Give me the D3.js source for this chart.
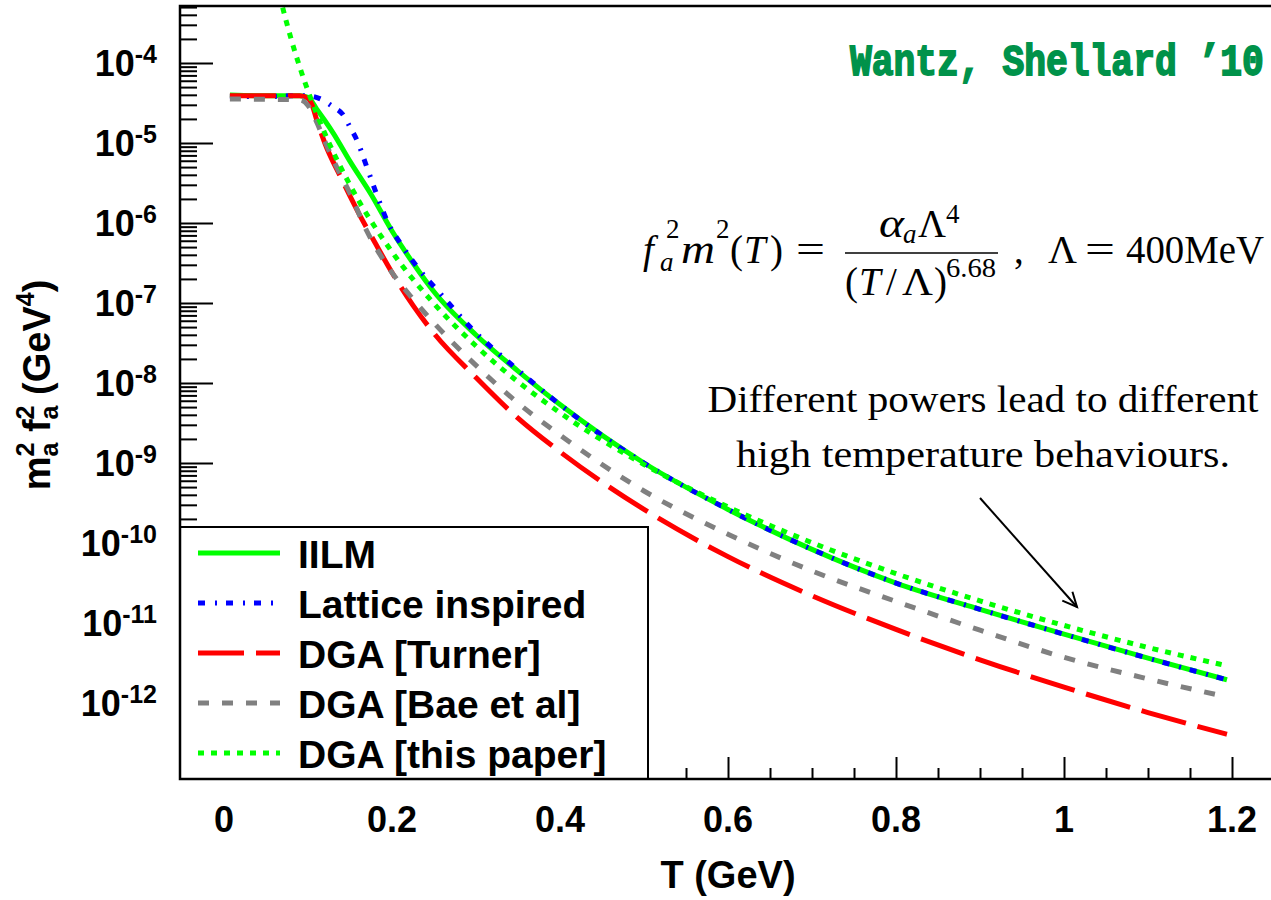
<!DOCTYPE html>
<html>
<head>
<meta charset="utf-8">
<script src="https://cdn.jsdelivr.net/npm/d3@7"></script>
<style>
  body { margin: 0; background: #fff; }
  svg { display: block; }
</style>
</head>
<body>
<svg id="chart" width="1271" height="900"></svg>
<script>
// Temperature T (GeV) and m_a^2 f_a^2 (GeV^4) for each topological-susceptibility model
const tIILM = [0.007, 0.05, 0.09, 0.1, 0.11, 0.12, 0.13, 0.15, 0.175, 0.2, 0.225, 0.25, 0.3, 0.35, 0.4, 0.5, 0.6, 0.7, 0.8, 0.9, 1.0, 1.1, 1.194];
const vIILM = [3.98e-5, 3.89e-5, 3.89e-5, 3.72e-5, 2.69e-5, 1.91e-5, 1.33e-5, 5.89e-6, 2.29e-6, 7.94e-7, 3.16e-7, 1.38e-7, 3.98e-8, 1.41e-8, 5.37e-9, 1.0e-9, 2.63e-10, 8.32e-11, 3.16e-11, 1.48e-11, 7.24e-12, 3.63e-12, 1.95e-12];

const tLattice = [0.007, 0.05, 0.08, 0.1, 0.115, 0.13, 0.142, 0.15, 0.158, 0.17, 0.182, 0.195, 0.213, 0.233, 0.257, 0.293, 0.35, 0.4, 0.5, 0.6, 0.7, 0.8, 0.9, 1.0, 1.1, 1.194];
const vLattice = [3.80e-5, 3.80e-5, 3.89e-5, 3.89e-5, 3.55e-5, 2.82e-5, 2.24e-5, 1.58e-5, 1.10e-5, 5.01e-6, 2.24e-6, 1.02e-6, 5.01e-7, 2.57e-7, 1.33e-7, 5.01e-8, 1.45e-8, 5.37e-9, 1.0e-9, 2.63e-10, 8.32e-11, 3.16e-11, 1.48e-11, 7.24e-12, 3.63e-12, 1.95e-12];

const tTurner = [0.007, 0.09, 0.1, 0.105, 0.11, 0.12, 0.14, 0.16, 0.18, 0.2, 0.225, 0.25, 0.3, 0.35, 0.4, 0.5, 0.6, 0.7, 0.8, 0.9, 1.0, 1.1, 1.194];
const vTurner = [3.89e-5, 3.89e-5, 3.63e-5, 2.95e-5, 2.00e-5, 1.0e-5, 3.55e-6, 1.35e-6, 5.62e-7, 2.40e-7, 9.33e-8, 4.17e-8, 1.17e-8, 3.63e-9, 1.38e-9, 2.63e-10, 6.76e-11, 2.19e-11, 8.32e-12, 3.47e-12, 1.58e-12, 7.59e-13, 4.07e-13];

const tBae = [0.007, 0.09, 0.1, 0.11, 0.12, 0.135, 0.15, 0.17, 0.2, 0.225, 0.25, 0.3, 0.35, 0.4, 0.5, 0.6, 0.7, 0.8, 0.9, 1.0, 1.1, 1.194];
const vBae = [3.55e-5, 3.47e-5, 2.95e-5, 1.86e-5, 1.05e-5, 4.79e-6, 2.34e-6, 7.94e-7, 2.40e-7, 1.12e-7, 5.62e-8, 1.66e-8, 5.62e-9, 2.24e-9, 4.47e-10, 1.29e-10, 4.47e-11, 1.86e-11, 8.13e-12, 3.72e-12, 2.00e-12, 1.19e-12];

const tThisPaper = [0.066, 0.07, 0.08, 0.09, 0.1, 0.12, 0.15, 0.2, 0.25, 0.3, 0.4, 0.5, 0.6, 0.7, 0.8, 0.9, 1.0, 1.1, 1.194];
const vThisPaper = [7.1e-4, 4.84e-4, 1.98e-4, 9.0e-5, 4.47e-5, 1.32e-5, 2.98e-6, 4.35e-7, 9.8e-8, 2.9e-8, 4.25e-9, 9.57e-10, 2.83e-10, 1.01e-10, 4.14e-11, 1.89e-11, 9.33e-12, 4.94e-12, 2.92e-12];

const seriesLabels = ["IILM", "Lattice inspired", "DGA [Turner]", "DGA [Bae et al]", "DGA [this paper]"];

// Axis ticks and labels
const xTickValues = [0, 0.2, 0.4, 0.6, 0.8, 1, 1.2];
const xTickLabels = ["0", "0.2", "0.4", "0.6", "0.8", "1", "1.2"];
const yTickExponents = [-4, -5, -6, -7, -8, -9, -10, -11, -12];
const yTickLabels = ["-4", "-5", "-6", "-7", "-8", "-9", "-10", "-11", "-12"];

const series = [
  { name: seriesLabels[0], t: tIILM, v: vIILM, color: "#00ff00", dash: null },
  { name: seriesLabels[1], t: tLattice, v: vLattice, color: "#0000ff", dash: "7 10 2 9" },
  { name: seriesLabels[2], t: tTurner, v: vTurner, color: "#ff0000", dash: "46 12" },
  { name: seriesLabels[3], t: tBae, v: vBae, color: "#808080", dash: "11 13" },
  { name: seriesLabels[4], t: tThisPaper, v: vThisPaper, color: "#00ff00", dash: "6 7" }
];

const svg = d3.select("#chart");
const L = 180, R = 1274, T = 6, B = 779;
const sans = "'Liberation Sans', Arial, Helvetica, sans-serif";
const serif = "'Liberation Serif', 'Times New Roman', serif";

const x = d3.scaleLinear().domain([-0.0524, 1.25]).range([L, R]);
const y = d3.scaleLog().domain([Math.pow(10, -12.95), Math.pow(10, -3.2875)]).range([B, T]);

svg.append("defs").append("clipPath").attr("id", "plotClip")
  .append("rect").attr("x", L).attr("y", T).attr("width", R - L).attr("height", B - T);

// Curves
const line = d3.line().x(d => x(d[0])).y(d => y(d[1])).curve(d3.curveMonotoneX);
const curves = svg.append("g").attr("clip-path", "url(#plotClip)");
series.forEach(s => {
  const pts = s.t.map((t, i) => [t, s.v[i]]);
  curves.append("path")
    .attr("d", line(pts))
    .attr("fill", "none")
    .attr("stroke", s.color)
    .attr("stroke-width", 5)
    .attr("stroke-dasharray", s.dash)
    .attr("stroke-linecap", "butt");
});

// Y ticks (inside, on the left edge)
const [yLo, yHi] = y.domain();
const yMajor = [];
const yMinor = [];
for (let e = -13; e <= -3; e++) {
  const base = Math.pow(10, e);
  if (base >= yLo && base <= yHi) yMajor.push(base);
  for (let m = 2; m <= 9; m++) {
    const v = m * base;
    if (v >= yLo && v <= yHi) yMinor.push(v);
  }
}
function styleTicks(g) {
  g.select(".domain").remove();
  g.selectAll("line").attr("stroke", "#000").attr("stroke-width", 2);
}
svg.append("g").attr("transform", `translate(${L},0)`)
  .call(d3.axisRight(y).tickValues(yMajor).tickSize(33).tickFormat(""))
  .call(styleTicks);
svg.append("g").attr("transform", `translate(${L},0)`)
  .call(d3.axisRight(y).tickValues(yMinor).tickSize(17).tickFormat(""))
  .call(styleTicks);

// X ticks (inside, on the bottom edge)
const xMinor = d3.range(0, 25).map(i => i * 0.05).filter(v => Math.abs(v * 5 - Math.round(v * 5)) > 1e-6);
svg.append("g").attr("transform", `translate(0,${B})`)
  .call(d3.axisTop(x).tickValues(xTickValues).tickSize(22).tickFormat(""))
  .call(styleTicks);
svg.append("g").attr("transform", `translate(0,${B})`)
  .call(d3.axisTop(x).tickValues(xMinor).tickSize(11).tickFormat(""))
  .call(styleTicks);

// X tick labels
xTickValues.forEach((v, i) => {
  svg.append("text")
    .attr("x", x(v)).attr("y", 832)
    .attr("text-anchor", "middle")
    .attr("font-family", sans).attr("font-weight", "bold").attr("font-size", 36)
    .text(xTickLabels[i]);
});

// Y tick labels 10^n
yTickExponents.forEach((e, i) => {
  const t = svg.append("text")
    .attr("x", 157).attr("y", y(Math.pow(10, e)) + 13)
    .attr("text-anchor", "end")
    .attr("font-family", sans).attr("font-weight", "bold").attr("font-size", 36);
  t.append("tspan").text("10");
  t.append("tspan").attr("font-size", 25).attr("dy", -13).text(yTickLabels[i]);
});

// Axis titles
svg.append("text")
  .attr("x", 728).attr("y", 888)
  .attr("text-anchor", "middle")
  .attr("font-family", sans).attr("font-weight", "bold").attr("font-size", 38)
  .text("T (GeV)");

const yt = svg.append("text")
  .attr("transform", "translate(50,385) rotate(-90)")
  .attr("text-anchor", "middle")
  .attr("font-family", sans).attr("font-weight", "bold").attr("font-size", 38);
yt.append("tspan").text("m");
yt.append("tspan").attr("font-size", 25).attr("dy", -16).text("2");
yt.append("tspan").attr("font-size", 25).attr("dx", -13.9).attr("dy", 24).text("a");
yt.append("tspan").attr("dy", -8).text(" f");
yt.append("tspan").attr("font-size", 25).attr("dy", -16).text("2");
yt.append("tspan").attr("font-size", 25).attr("dx", -13.9).attr("dy", 24).text("a");
yt.append("tspan").attr("dy", -8).text(" (GeV");
yt.append("tspan").attr("font-size", 25).attr("dy", -16).text("4");
yt.append("tspan").attr("dy", 16).text(")");

// Author tag, horizontally condensed typewriter lettering
svg.append("g").attr("transform", "translate(850,75) scale(0.825,1)")
  .append("text")
  .attr("x", 0).attr("y", 0)
  .attr("font-family", "'Liberation Mono', 'Courier New', monospace")
  .attr("font-weight", "bold").attr("font-size", 44)
  .attr("fill", "#00924a").attr("stroke", "#00924a").attr("stroke-width", 1.8)
  .text("Wantz, Shellard \u201910");

// Parametrisation formula, each piece placed on its own
const fs = 39, ss = 27;
const formula = svg.append("g").attr("font-family", serif).attr("font-size", fs);
function piece(px, py, str, opts = {}) {
  const t = formula.append("text").attr("x", px).attr("y", py).text(str);
  if (opts.italic) t.attr("font-style", "italic");
  if (opts.size) t.attr("font-size", opts.size);
  if (opts.width) t.attr("textLength", opts.width).attr("lengthAdjust", "spacingAndGlyphs");
  return t;
}
const base = 263;
piece(643, base, "f", { italic: true });
piece(666, base - 25, "2", { size: ss });
piece(660, base + 8, "a", { italic: true, size: ss });
piece(681, base, "m", { italic: true, width: 34 });
piece(716, base - 25, "2", { size: ss });
piece(730, base, "(");
piece(744, base, "T", { italic: true });
piece(770, base, ")");
piece(796, base, "=", { width: 29 });

piece(879, 237, "\u03b1", { italic: true, width: 25 });
piece(903, 243, "a", { italic: true, size: ss });
piece(918, 237, "\u039b", { width: 28 });
piece(946, 223, "4", { size: ss });

svg.append("line").attr("x1", 845).attr("x2", 998).attr("y1", 253).attr("y2", 253)
  .attr("stroke", "#000").attr("stroke-width", 1.5);

piece(845, 295, "(");
piece(859, 295, "T", { italic: true });
piece(886, 295, "/");
piece(902, 295, "\u039b", { width: 31 });
piece(934, 295, ")");
piece(946, 277, "6.68", { size: ss, width: 50 });

piece(1014, base, ",");
piece(1048, base, "\u039b", { width: 29 });
piece(1085, base, "=", { width: 30 });
piece(1126, base, "400MeV", { width: 138 });

// Annotation with arrow
svg.append("text").attr("x", 983).attr("y", 412).attr("text-anchor", "middle")
  .attr("font-family", serif).attr("font-size", 38)
  .attr("textLength", 551).attr("lengthAdjust", "spacingAndGlyphs")
  .text("Different powers lead to different");
svg.append("text").attr("x", 983).attr("y", 467).attr("text-anchor", "middle")
  .attr("font-family", serif).attr("font-size", 38)
  .attr("textLength", 494).attr("lengthAdjust", "spacingAndGlyphs")
  .text("high temperature behaviours.");

const a0 = [980, 498], a1 = [1077, 607];
svg.append("line").attr("x1", a0[0]).attr("y1", a0[1]).attr("x2", a1[0]).attr("y2", a1[1])
  .attr("stroke", "#000").attr("stroke-width", 2);
{
  const dx = a0[0] - a1[0], dy = a0[1] - a1[1];
  const len = Math.hypot(dx, dy), ux = dx / len, uy = dy / len;
  const ang = 25 * Math.PI / 180, hl = 16;
  const p1 = [a1[0] + hl * (ux * Math.cos(ang) - uy * Math.sin(ang)), a1[1] + hl * (ux * Math.sin(ang) + uy * Math.cos(ang))];
  const p2 = [a1[0] + hl * (ux * Math.cos(-ang) - uy * Math.sin(-ang)), a1[1] + hl * (ux * Math.sin(-ang) + uy * Math.cos(-ang))];
  svg.append("path").attr("d", `M${p1[0]},${p1[1]}L${a1[0]},${a1[1]}L${p2[0]},${p2[1]}`)
    .attr("fill", "none").attr("stroke", "#000").attr("stroke-width", 2);
}

// Legend
const leg = svg.append("g");
leg.append("rect").attr("x", L).attr("y", 527).attr("width", 468).attr("height", B - 527)
  .attr("fill", "#fff").attr("stroke", "#000").attr("stroke-width", 2);
series.forEach((s, i) => {
  const ly = 553 + 50 * i;
  leg.append("line").attr("x1", 198).attr("x2", 280).attr("y1", ly).attr("y2", ly)
    .attr("stroke", s.color).attr("stroke-width", 5).attr("stroke-dasharray", s.dash);
  leg.append("text").attr("x", 298).attr("y", ly + 15)
    .attr("font-family", sans).attr("font-weight", "bold").attr("font-size", 39)
    .text(s.name);
});

// Frame
svg.append("rect").attr("x", L).attr("y", T).attr("width", R - L).attr("height", B - T)
  .attr("fill", "none").attr("stroke", "#000").attr("stroke-width", 2.5);
</script>
</body>
</html>
